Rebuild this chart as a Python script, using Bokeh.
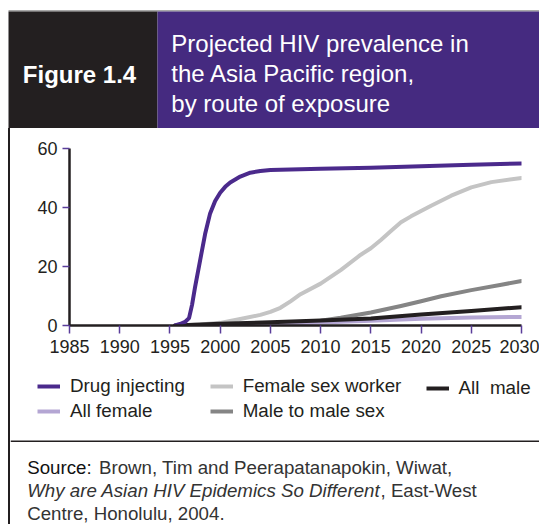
from bokeh.plotting import figure
from bokeh.layouts import column, row
from bokeh.models import Range1d, FixedTicker, Legend, LegendItem, Label, Spacer
from bokeh.core.properties import value
from bokeh.embed import file_html
from bokeh.resources import INLINE

FONT = "Liberation Sans"
NAN = float("nan")

# ---------------- data ----------------
fig_label = "Figure 1.4"
title_lines = ["Projected HIV prevalence in", "the Asia Pacific region,", "by route of exposure"]

x_ticks = [1985, 1990, 1995, 2000, 2005, 2010, 2015, 2020, 2025, 2030]
y_ticks = [0, 20, 40, 60]
y_label = "%"

series_names = ["Drug injecting", "Female sex worker", "All  male", "All female", "Male to male sex"]

di_years = [1995.5, 1996.0, 1996.5, 1996.9, 1997.2, 1997.5, 1998.0, 1998.5, 1999.0, 1999.5,
            2000.0, 2000.5, 2001.0, 2002.0, 2003.0, 2004.0, 2005.0, 2010.0, 2015.0, 2020.0, 2025.0, 2030.0]
di_vals = [0, 0.5, 1.2, 2.5, 7, 13, 22, 31, 38, 42.2,
           45, 47, 48.5, 50.5, 51.8, 52.4, 52.7, 53.1, 53.5, 54.0, 54.5, 54.9]

fsw_years = [1996, 1998, 2000, 2002, 2004, 2005, 2006, 2007, 2008, 2010, 2012, 2014, 2015,
             2016, 2017, 2018, 2019, 2020, 2021, 2023, 2025, 2027, 2030]
fsw_vals = [0, 0.3, 0.9, 2.2, 3.6, 4.6, 6.0, 8.2, 10.6, 14.2, 18.8, 24.0, 26.2,
            29.0, 32.0, 35.0, 37.0, 38.8, 40.6, 44.0, 46.8, 48.6, 50.0]

msm_years = [1996, 2000, 2005, 2008, 2010, 2012, 2015, 2018, 2020, 2022, 2025, 2028, 2030]
msm_vals = [0, 0.3, 0.8, 1.2, 1.6, 2.6, 4.4, 6.6, 8.2, 9.9, 12.0, 13.8, 15.1]

am_years = [1995.5, 2000, 2005, 2010, 2015, 2020, 2025, 2030]
am_vals = [0, 0.6, 1.1, 1.7, 2.4, 3.7, 4.9, 6.2]

af_years = [1996, 2000, 2005, 2010, 2015, 2020, 2025, 2030]
af_vals = [0, 0.2, 0.4, 1.0, 1.6, 2.3, 2.7, 2.9]

source_1a = "Source:"
source_1b = "Brown, Tim and Peerapatanapokin, Wiwat,"
source_2a = "Why are Asian HIV Epidemics So Different"
source_2b = ", East-West"
source_3 = "Centre, Honolulu, 2004."

# ---------------- colours ----------------
C_BLACK = "#231f20"
C_PURPLE_HDR = "#452a80"
C_DI = "#4b2a8c"
C_FSW = "#c4c4c4"
C_MSM = "#858585"
C_AM = "#231f20"
C_AF = "#b4a6d3"
C_TICK = "#5a3d9a"
SERIES_COLORS = {"di": C_DI, "fsw": C_FSW, "am": C_AM, "af": C_AF, "msm": C_MSM}


def blank(fig):
    fig.axis.visible = False
    fig.grid.visible = False
    fig.background_fill_color = "white"
    fig.border_fill_color = "white"
    return fig


# ---------------- header (page coords: x 0..539, y 0..128) ----------------
hdr = figure(width=539, height=128, x_range=Range1d(0, 539), y_range=Range1d(128, 0),
             output_backend="svg", toolbar_location=None, min_border=0,
             outline_line_color=None)
blank(hdr)
hdr.segment(x0=[8], y0=[10.4], x1=[539], y1=[10.4], line_color="#707070", line_width=1)
hdr.quad(left=[8], right=[157], top=[11], bottom=[128], color=C_BLACK, line_color=None)
hdr.quad(left=[157], right=[539], top=[11], bottom=[128], color=C_PURPLE_HDR, line_color=None)
hdr.text(x=[22.3], y=[73.9], text=[fig_label], text_font=value(FONT), text_font_style="bold",
         text_font_size="24px", text_color="white", text_baseline="alphabetic")
hdr.text(x=[170.8, 170.8, 170.8], y=[43.0, 72.9, 103.1], text=title_lines, text_font=value(FONT),
         text_font_size="24px", text_color="white", text_baseline="alphabetic")

# ---------------- chart (page x 10..539, y 128..370) ----------------
p = figure(width=529, height=242, x_range=Range1d(1985, 2030), y_range=Range1d(0, 60),
           output_backend="svg", toolbar_location=None,
           min_border_left=59, min_border_right=18, min_border_top=20, min_border_bottom=45,
           outline_line_color=None)
p.grid.visible = False
p.background_fill_color = "white"
p.border_fill_color = "white"

p.xaxis.ticker = FixedTicker(ticks=x_ticks)
p.yaxis.ticker = FixedTicker(ticks=y_ticks)
for ax in (p.xaxis, p.yaxis):
    ax.axis_line_color = C_BLACK
    ax.axis_line_width = 2.5
    ax.major_tick_line_color = C_TICK
    ax.major_tick_line_width = 1.5
    ax.major_tick_in = 0
    ax.minor_tick_line_color = None
    ax.major_label_text_font = FONT
    ax.major_label_text_font_size = "18px"
    ax.major_label_text_color = C_BLACK
p.xaxis.major_tick_out = 8
p.xaxis.major_label_standoff = 6
p.yaxis.major_tick_out = 7
p.yaxis.major_label_standoff = 5

line_kw = dict(line_width=4, line_cap="round", line_join="round")
p.line(fsw_years, fsw_vals, line_color=C_FSW, **line_kw)
p.line(msm_years, msm_vals, line_color=C_MSM, **line_kw)
p.line(af_years, af_vals, line_color=C_AF, **line_kw)
p.line(am_years, am_vals, line_color=C_AM, **line_kw)
p.line(di_years, di_vals, line_color=C_DI, **line_kw)

p.add_layout(Label(x=1985, y=29.5, x_offset=-34.5, text=y_label, text_align="center",
                   text_baseline="middle", text_font=FONT, text_font_size="17.5px",
                   text_color=C_BLACK))

# ---------------- legend + source (page x 10..539, y 370..524) ----------------
src = figure(width=529, height=154, x_range=Range1d(0, 529), y_range=Range1d(154, 0),
             output_backend="svg", toolbar_location=None, min_border=0,
             outline_line_color=None)
blank(src)

# legend swatch renderers (styled like the chart's lines; no visible data)
sw = {k: src.line(x=[NAN, NAN], y=[NAN, NAN], line_color=c, line_width=4)
      for k, c in SERIES_COLORS.items()}

leg_kw = dict(orientation="vertical", glyph_width=23, glyph_height=20, label_height=20,
              label_standoff=10, spacing=3, padding=0, margin=0, border_line_color=None,
              background_fill_alpha=0, label_text_font=FONT, label_text_font_size="18.8px",
              label_text_color=C_BLACK)
leg_a = Legend(items=[LegendItem(label=series_names[0], renderers=[sw["di"]]),
                      LegendItem(label=series_names[3], renderers=[sw["af"]])],
               location=(27, 102), **leg_kw)
leg_b = Legend(items=[LegendItem(label=series_names[1], renderers=[sw["fsw"]]),
                      LegendItem(label=series_names[4], renderers=[sw["msm"]])],
               location=(199.7, 102), **leg_kw)
leg_c = Legend(items=[LegendItem(label=series_names[2], renderers=[sw["am"]])],
               location=(415.6, 125), **leg_kw)
for lg in (leg_a, leg_b, leg_c):
    src.add_layout(lg)

src.segment(x0=[0], y0=[70.7], x1=[529], y1=[70.7], line_color=C_BLACK, line_width=1.5)
txt_kw = dict(text_font=value(FONT), text_font_size="18.7px", text_baseline="alphabetic")
src.text(x=[16.7], y=[96.7], text=[source_1a], text_color="#111111", **txt_kw)
src.text(x=[88.5], y=[96.7], text=[source_1b], text_color="#333333", **txt_kw)
src.text(x=[16.7], y=[120.0], text=[source_2a], text_color="#333333", text_font_style="italic", **txt_kw)
src.text(x=[370.0], y=[120.0], text=[source_2b], text_color="#333333", **txt_kw)
src.text(x=[16.7], y=[143.3], text=[source_3], text_color="#333333", **txt_kw)


def left_edge(h):
    return row(Spacer(width=8, height=h),
               Spacer(width=2, height=h, styles={"background-color": C_BLACK}))


layout = column(hdr,
                row(left_edge(242), p),
                row(left_edge(154), src))

open("out.html", "w").write(file_html(layout, INLINE))
